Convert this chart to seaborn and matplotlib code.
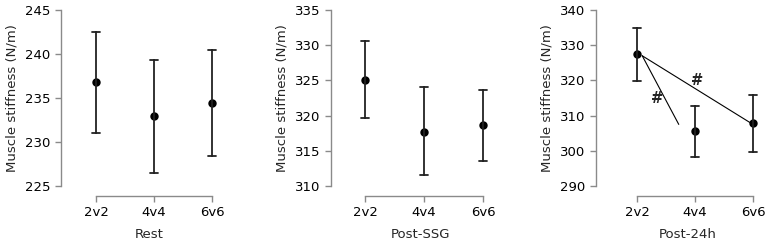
import numpy as np
import pandas as pd
import matplotlib
matplotlib.use('Agg')
import matplotlib.pyplot as plt
import seaborn as sns

sns.set_style('ticks')
plt.rcParams['font.family'] = ['DejaVu Sans']

# 세 시점별 근육 강직도 (평균, 하한, 상한)
groups = ['2v2', '4v4', '6v6']
panels = ['Rest', 'Post-SSG', 'Post-24h']
mean_rest = [236.8, 232.9, 234.4]
low_rest = [231.0, 226.5, 228.4]
high_rest = [242.5, 239.3, 240.4]
mean_ssg = [325.1, 317.7, 318.6]
low_ssg = [319.7, 311.5, 313.5]
high_ssg = [330.6, 324.0, 323.7]
mean_24h = [327.4, 305.6, 307.8]
low_24h = [319.9, 298.3, 299.6]
high_24h = [334.9, 312.8, 315.9]
yticks_all = [[225, 230, 235, 240, 245],
              [310, 315, 320, 325, 330, 335],
              [290, 300, 310, 320, 330, 340]]

means = [mean_rest, mean_ssg, mean_24h]
lows = [low_rest, low_ssg, low_24h]
highs = [high_rest, high_ssg, high_24h]

fig = plt.figure(figsize=(7.67, 2.46), dpi=100)
W, H = 767, 246
# 축 위치 (픽셀): 왼쪽 y축, 카테고리 간격
lefts = [61, 331, 596]
first = [96, 365, 637]
step = [58, 59, 58]
top_px, bot_px = 10, 186
spine_gray = '#8a8a8a'

for i in range(3):
    x0 = lefts[i]
    xmin = -(first[i] - x0) / step[i]
    xmax = 2.45
    width_px = (xmax - xmin) * step[i]
    ax = fig.add_axes([x0 / W, (H - bot_px) / H, width_px / W, (bot_px - top_px) / H])

    rows = []
    for g, lo, m, hi in zip(groups, lows[i], means[i], highs[i]):
        for v in (lo, m, hi):
            rows.append({'group': g, 'value': v})
    df = pd.DataFrame(rows)
    sns.pointplot(data=df, x='group', y='value', order=groups,
                  estimator='median', errorbar=lambda v: (v.min(), v.max()),
                  linestyle='none', color='black', marker='o', markersize=4,
                  capsize=0.13, err_kws={'linewidth': 1.3, 'color': '#222222'},
                  ax=ax)

    yt = yticks_all[i]
    ax.set_ylim(yt[0], yt[-1])
    ax.set_yticks(yt)
    ax.set_xlim(xmin, xmax)
    ax.set_xticks([0, 1, 2])
    ax.set_xticklabels(groups)

    sns.despine(ax=ax)
    ax.spines['bottom'].set_position(('outward', 7.2))
    ax.spines['bottom'].set_bounds(0, 2)
    ax.spines['left'].set_bounds(yt[0], yt[-1])
    for s in ('bottom', 'left'):
        ax.spines[s].set_color(spine_gray)
        ax.spines[s].set_linewidth(1.0)
    ax.tick_params(axis='both', colors=spine_gray, labelcolor='black',
                   length=4.5, width=1.0, labelsize=9.5, pad=3)
    ax.set_xlabel(panels[i], fontsize=9.5, labelpad=6)
    ax.set_ylabel('Muscle stiffness (N/m)', fontsize=9.5, labelpad=5)

    if i == 2:
        ax.plot([0.09, 0.72], [327.0, 307.5], color='black', lw=0.8)
        ax.plot([0.09, 1.97], [327.0, 307.8], color='black', lw=0.8)
        ax.text(0.35, 314.8, '#', ha='center', va='center', fontsize=10.5,
                fontweight='bold')
        ax.text(1.04, 319.9, '#', ha='center', va='center', fontsize=10.5,
                fontweight='bold')

fig.savefig('out.png', dpi=100)
